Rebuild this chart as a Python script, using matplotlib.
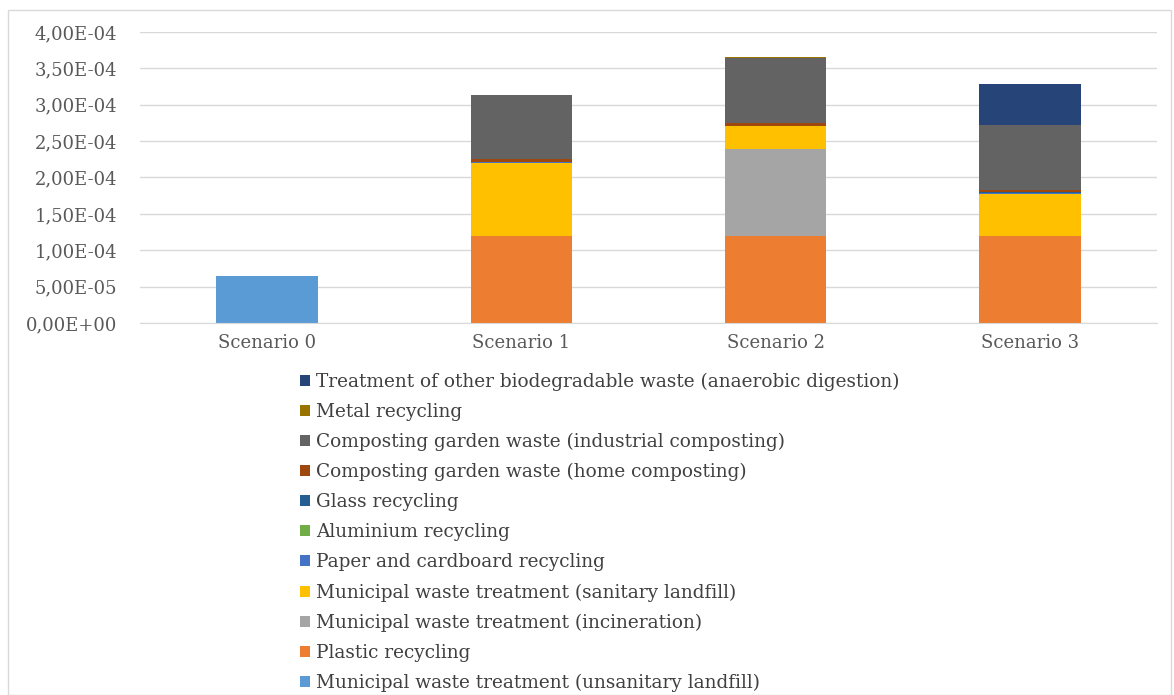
import matplotlib
matplotlib.use("Agg")
import matplotlib.pyplot as plt
from matplotlib.ticker import FuncFormatter, MultipleLocator
from matplotlib.patches import Rectangle, Patch
import numpy as np

categories = ["Scenario 0", "Scenario 1", "Scenario 2", "Scenario 3"]

series_names = [
    "Municipal waste treatment (unsanitary landfill)",
    "Plastic recycling",
    "Municipal waste treatment (incineration)",
    "Municipal waste treatment (sanitary landfill)",
    "Paper and cardboard recycling",
    "Aluminium recycling",
    "Glass recycling",
    "Composting garden waste (home composting)",
    "Composting garden waste (industrial composting)",
    "Metal recycling",
    "Treatment of other biodegradable waste (anaerobic digestion)",
]

unsanitary = [6.5e-5, 0.0, 0.0, 0.0]
plastic = [0.0, 1.2e-4, 1.2e-4, 1.2e-4]
incineration = [0.0, 0.0, 1.19e-4, 0.0]
sanitary = [0.0, 1.0e-4, 3.16e-5, 5.75e-5]
paper = [0.0, 1.2e-6, 0.3e-6, 0.8e-6]
aluminium = [0.0, 0.2e-6, 0.2e-6, 1.0e-6]
glass = [0.0, 0.5e-6, 0.3e-6, 0.5e-6]
home_composting = [0.0, 3.0e-6, 3.2e-6, 2.5e-6]
industrial_composting = [0.0, 8.85e-5, 9.0e-5, 9.0e-5]
metal = [0.0, 0.5e-6, 0.6e-6, 0.5e-6]
anaerobic = [0.0, 0.0, 0.0, 5.6e-5]

series_values = [unsanitary, plastic, incineration, sanitary, paper, aluminium,
                 glass, home_composting, industrial_composting, metal, anaerobic]

colors = ["#5B9BD5", "#ED7D31", "#A5A5A5", "#FFC000", "#4472C4", "#70AD47",
          "#255E91", "#9E480E", "#636363", "#997300", "#264478"]

W, H = 1174, 695
fig = plt.figure(figsize=(W / 100, H / 100), dpi=100)
ax = fig.add_axes([140 / W, 1 - 323 / H, (1157 - 140) / W, (323 - 32) / H])

x = np.arange(len(categories))
bottom = np.zeros(len(categories))
for name, vals, c in zip(series_names, series_values, colors):
    v = np.array(vals)
    ax.bar(x, v, bottom=bottom, width=0.4, color=c, label=name, linewidth=0)
    bottom += v

ax.set_xlim(-0.5, len(categories) - 0.5)
ax.set_ylim(0, 4.0e-4)
ax.yaxis.set_major_locator(MultipleLocator(5e-5))
ax.yaxis.set_major_formatter(FuncFormatter(lambda v, p: f"{v:.2E}".replace(".", ",")))
ax.set_xticks(x)
ax.set_xticklabels(categories)

serif = ["DejaVu Serif"]
for lab in ax.get_yticklabels() + ax.get_xticklabels():
    lab.set_fontfamily(serif)
    lab.set_fontsize(13)
    lab.set_color("#595959")

ax.grid(axis="y", color="#D9D9D9", linewidth=1)
ax.set_axisbelow(True)
for s in ["top", "right", "left"]:
    ax.spines[s].set_visible(False)
ax.spines["bottom"].set_color("#D9D9D9")
ax.tick_params(axis="both", length=0)
ax.tick_params(axis="y", pad=16.5)
ax.tick_params(axis="x", pad=8)

handles = [Patch(facecolor=c, edgecolor="none") for c in colors][::-1]
labels = series_names[::-1]
fig.legend(handles, labels, loc="upper left", bbox_to_anchor=(287 / W, 1 - 359.5 / H),
           frameon=False, ncol=1, handlelength=0.55, handleheight=0.55,
           handletextpad=0.3, labelspacing=0.652, borderpad=0.2,
           prop={"family": serif, "size": 13.3}, labelcolor="#404040")

fig.patches.append(Rectangle((8 / W, 0), (1171 - 8) / W, 1 - 10 / H,
                             transform=fig.transFigure, fill=False,
                             edgecolor="#D9D9D9", linewidth=1))

fig.savefig("out.png", dpi=100)
